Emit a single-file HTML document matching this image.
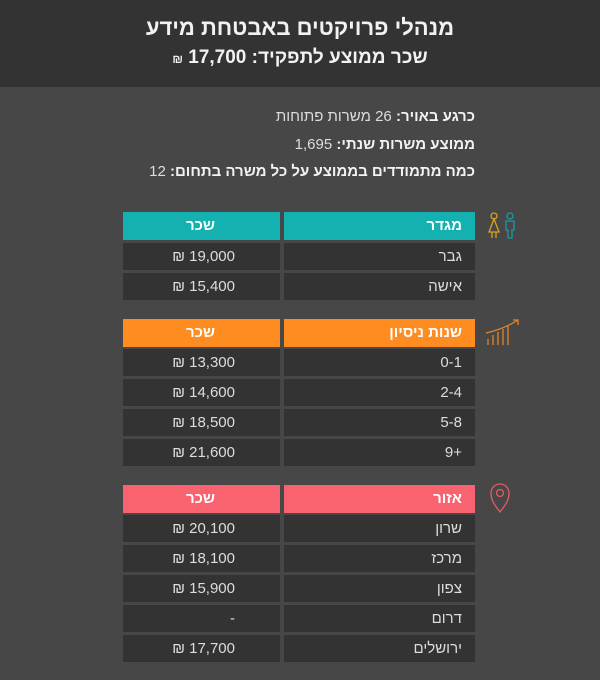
<!DOCTYPE html>
<html><head><meta charset="utf-8"><style>
body{margin:0;width:600px;height:680px;background:#474747;font-family:"Liberation Sans","Noto Sans CJK JP",sans-serif;overflow:hidden;position:relative;color:#eee}
.hdr{position:absolute;left:0;top:0;width:600px;height:87px;background:#333}
.t1{position:absolute;top:15px;left:0;width:600px;text-align:center;font-size:22px;font-weight:bold;color:#f2f2f2;direction:rtl}
.t2{position:absolute;top:47px;left:0;width:600px;text-align:center;font-size:19px;font-weight:bold;color:#f2f2f2;direction:rtl}
.info{position:absolute;right:125px;direction:rtl;font-size:15px;color:#ddd;white-space:nowrap}
.info b{color:#f2f2f2}
.c{position:absolute;height:27px;line-height:27px;background:#333;font-size:15px;color:#ddd;direction:rtl;box-sizing:border-box}
.l{left:123px;width:157px;padding-right:45px}
.r{left:284px;width:191px;padding-right:13px}
.h{height:28px;line-height:28px;font-weight:bold;color:#fff}
.h.l{padding-right:65px}
</style></head><body>
<div class="hdr"></div>
<div class="t1">מנהלי פרויקטים באבטחת מידע</div>
<div class="t2">שכר ממוצע לתפקיד: 17,700 <span style="font-size:12px">₪</span></div>
<div class="info" style="top:108px"><b>כרגע באויר:</b> 26 משרות פתוחות</div>
<div class="info" style="top:136px"><b>ממוצע משרות שנתי:</b> 1,695</div>
<div class="info" style="top:163px"><b>כמה מתמודדים בממוצע על כל משרה בתחום:</b> 12</div>

<div class="c r h" style="top:212px;background:#14b1b0">מגדר</div>
<div class="c l h" style="top:212px;background:#14b1b0">שכר</div>
<div class="c r" style="top:243px">גבר</div><div class="c l" style="top:243px">19,000 ₪</div>
<div class="c r" style="top:273px">אישה</div><div class="c l" style="top:273px">15,400 ₪</div>

<div class="c r h" style="top:319px;background:#ff8c21">שנות ניסיון</div>
<div class="c l h" style="top:319px;background:#ff8c21">שכר</div>
<div class="c r" style="top:349px">0-1</div><div class="c l" style="top:349px">13,300 ₪</div>
<div class="c r" style="top:379px">2-4</div><div class="c l" style="top:379px">14,600 ₪</div>
<div class="c r" style="top:409px">5-8</div><div class="c l" style="top:409px">18,500 ₪</div>
<div class="c r" style="top:439px">+9</div><div class="c l" style="top:439px">21,600 ₪</div>

<div class="c r h" style="top:485px;background:#f8636f">אזור</div>
<div class="c l h" style="top:485px;background:#f8636f">שכר</div>
<div class="c r" style="top:515px">שרון</div><div class="c l" style="top:515px">20,100 ₪</div>
<div class="c r" style="top:545px">מרכז</div><div class="c l" style="top:545px">18,100 ₪</div>
<div class="c r" style="top:575px">צפון</div><div class="c l" style="top:575px">15,900 ₪</div>
<div class="c r" style="top:605px">דרום</div><div class="c l" style="top:605px">-</div>
<div class="c r" style="top:635px">ירושלים</div><div class="c l" style="top:635px">17,700 ₪</div>

<svg style="position:absolute;left:484px;top:210px" width="40" height="34" fill="none" stroke-width="1.3">
<g stroke="#d9a21b"><circle cx="10" cy="6" r="3"/><path d="M10 9 L5 22 H15 Z M8 22 V28 M12 22 V28"/></g>
<g stroke="#1a9aa0"><circle cx="26" cy="6" r="3"/><path d="M22 11 H30 V20 H28 V28 H24 V20 H22 Z"/></g>
</svg>
<svg style="position:absolute;left:484px;top:317px" width="40" height="32" fill="none" stroke="#e2852a" stroke-width="1.3">
<path d="M4 28V22M9 28V18M14 28V15M19 28V12M24 28V9"/><path d="M2 16 Q20 12 34 3"/><path d="M29 3 H34 V8"/>
</svg>
<svg style="position:absolute;left:488px;top:480px" width="30" height="40" fill="none" stroke="#e65a66" stroke-width="1.3">
<path d="M12 32 C4 22 3 18 3 13 A9 9 0 0 1 21 13 C21 18 20 22 12 32 Z"/><circle cx="12" cy="13" r="3.5"/>
</svg>
</body></html>
